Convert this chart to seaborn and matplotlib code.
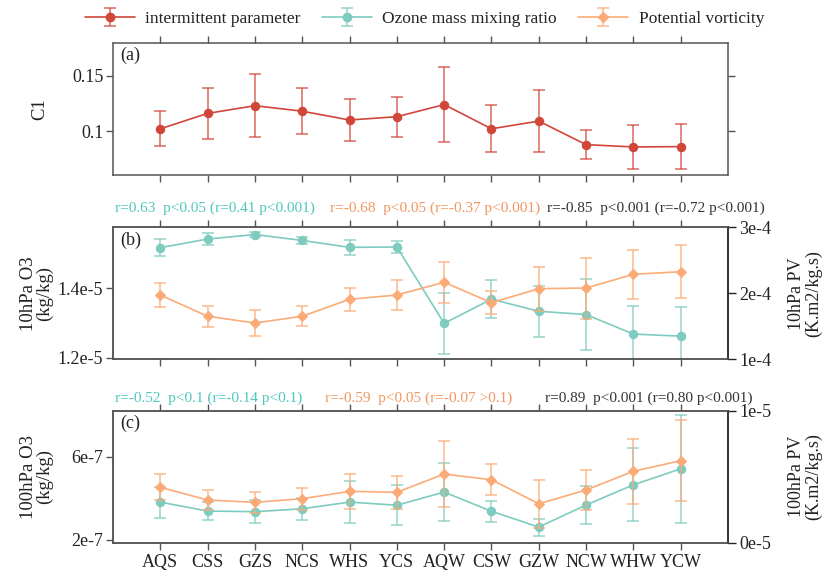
import numpy as np
import pandas as pd
import matplotlib
matplotlib.use("Agg")
import matplotlib.pyplot as plt
import seaborn as sns
from matplotlib.lines import Line2D
from matplotlib.legend_handler import HandlerTuple

categories = ['AQS', 'CSS', 'GZS', 'NCS', 'WHS', 'YCS', 'AQW', 'CSW', 'GZW', 'NCW', 'WHW', 'YCW']

c1_mean = [0.102, 0.116, 0.123, 0.118, 0.110, 0.113, 0.124, 0.102, 0.109, 0.0876, 0.0855, 0.0858]
c1_err = [0.016, 0.023, 0.0285, 0.021, 0.019, 0.018, 0.034, 0.0215, 0.028, 0.0135, 0.020, 0.0205]

o3_10 = [1.518e-5, 1.543e-5, 1.556e-5, 1.539e-5, 1.519e-5, 1.520e-5, 1.299e-5, 1.369e-5, 1.334e-5, 1.3245e-5, 1.268e-5, 1.262e-5]
o3_10_err = [0.024e-5, 0.017e-5, 0.008e-5, 0.011e-5, 0.021e-5, 0.017e-5, 0.088e-5, 0.0555e-5, 0.074e-5, 0.1035e-5, 0.080e-5, 0.084e-5]
pv_10 = [1.974e-4, 1.652e-4, 1.55e-4, 1.652e-4, 1.909e-4, 1.974e-4, 2.167e-4, 1.858e-4, 2.07e-4, 2.08e-4, 2.288e-4, 2.327e-4]
pv_10_err = [0.178e-4, 0.157e-4, 0.195e-4, 0.154e-4, 0.17e-4, 0.227e-4, 0.308e-4, 0.177e-4, 0.333e-4, 0.462e-4, 0.371e-4, 0.399e-4]

o3_100 = [3.82e-7, 3.39e-7, 3.36e-7, 3.5e-7, 3.82e-7, 3.67e-7, 4.3e-7, 3.38e-7, 2.62e-7, 3.68e-7, 4.65e-7, 5.42e-7]
o3_100_err = [0.745e-7, 0.44e-7, 0.54e-7, 0.54e-7, 1.0e-7, 0.97e-7, 1.39e-7, 0.5e-7, 0.41e-7, 0.9e-7, 1.75e-7, 2.58e-7]
pv_100 = [4.2e-6, 3.23e-6, 3.06e-6, 3.33e-6, 3.89e-6, 3.82e-6, 5.2e-6, 4.77e-6, 2.95e-6, 3.99e-6, 5.41e-6, 6.21e-6]
pv_100_err = [1.0e-6, 0.78e-6, 0.8e-6, 0.83e-6, 1.31e-6, 1.26e-6, 2.53e-6, 1.19e-6, 1.82e-6, 1.52e-6, 2.46e-6, 3.08e-6]

series_labels = ['intermittent parameter', 'Ozone mass mixing ratio', 'Potential vorticity']

a_yticks = [0.1, 0.15]
a_yticklabels = ['0.1', '0.15']
b_left_ticks = [1.2e-5, 1.4e-5]
b_left_labels = ['1.2e-5', '1.4e-5']
b_right_ticks = [1e-4, 2e-4, 3e-4]
b_right_labels = ['1e-4', '2e-4', '3e-4']
c_left_ticks = [2e-7, 6e-7]
c_left_labels = ['2e-7', '6e-7']
c_right_ticks = [0, 1e-5]
c_right_labels = ['0e-5', '1e-5']

b_stats = ['r=0.63  p<0.05 (r=0.41 p<0.001)', 'r=-0.68  p<0.05 (r=-0.37 p<0.001)', 'r=-0.85  p<0.001 (r=-0.72 p<0.001)']
c_stats = ['r=-0.52  p<0.1 (r=-0.14 p<0.1)', 'r=-0.59  p<0.05 (r=-0.07 >0.1)', 'r=0.89  p<0.001 (r=0.80 p<0.001)']

sns.set_theme(style='white')
plt.rcParams['font.family'] = ['Liberation Serif', 'DejaVu Serif']

RED = '#d0473a'
TEAL = '#7ecbbf'
ORANGE = '#fbab77'
TEAL_TXT = '#4ec8bc'
ORANGE_TXT = '#f39660'
DARK_TXT = '#333333'
SPINE = '#555555'

fig = plt.figure(figsize=(8.24, 5.76), dpi=100)
L, W, H = 113 / 824, 615 / 824, 132 / 576
ax_a = fig.add_axes([L, (576 - 175) / 576, W, H])
ax_b = fig.add_axes([L, (576 - 359.3) / 576, W, H])
ax_c = fig.add_axes([L, (576 - 542.7) / 576, W, H])

x = np.arange(len(categories))
df = pd.DataFrame({'pos': x, 'cat': categories,
                   'c1': c1_mean, 'c1e': c1_err,
                   'o3_10': o3_10, 'o3_10e': o3_10_err, 'pv_10': pv_10, 'pv_10e': pv_10_err,
                   'o3_100': o3_100, 'o3_100e': o3_100_err, 'pv_100': pv_100, 'pv_100e': pv_100_err})


def draw(ax, ycol, ecol, color, marker, ms):
    eb = ax.errorbar(df['pos'], df[ycol], yerr=df[ecol], fmt='none', ecolor=color,
                     elinewidth=1.2, capsize=4.5, capthick=1.2, alpha=0.75, zorder=2)
    sns.lineplot(data=df, x='pos', y=ycol, ax=ax, color=color, marker=marker,
                 markersize=ms, markeredgecolor=color, markeredgewidth=0.8,
                 linewidth=1.2, zorder=3, legend=False)
    return eb


eb_red = draw(ax_a, 'c1', 'c1e', RED, 'o', 6)
ax_a.set_ylim(0.06, 0.18)
ax_a.set_yticks(a_yticks)
ax_a.set_yticklabels(a_yticklabels)

eb_teal = draw(ax_b, 'o3_10', 'o3_10e', TEAL, 'o', 6)
ax_b.set_ylim(1.195e-5, 1.577e-5)
ax_b.set_yticks(b_left_ticks)
ax_b.set_yticklabels(b_left_labels)
ax_b2 = ax_b.twinx()
eb_orange = draw(ax_b2, 'pv_10', 'pv_10e', ORANGE, 'D', 5)
ax_b2.set_ylim(1e-4, 3e-4)
ax_b2.set_yticks(b_right_ticks)
ax_b2.set_yticklabels(b_right_labels)

draw(ax_c, 'o3_100', 'o3_100e', TEAL, 'o', 6)
ax_c.set_ylim(1.87e-7, 8.21e-7)
ax_c.set_yticks(c_left_ticks)
ax_c.set_yticklabels(c_left_labels)
ax_c2 = ax_c.twinx()
draw(ax_c2, 'pv_100', 'pv_100e', ORANGE, 'D', 5)
ax_c2.set_ylim(0, 1e-5)
ax_c2.set_yticks(c_right_ticks)
ax_c2.set_yticklabels(c_right_labels)

for ax in (ax_a, ax_b, ax_c, ax_b2, ax_c2):
    ax.set_xlim(-1, len(categories))
    ax.set_xticks(x)
    for s in ax.spines.values():
        s.set_color(SPINE)
        s.set_linewidth(1.1)
    ax.set_xlabel('')
    ax.set_ylabel('')

for ax in (ax_a, ax_b, ax_c):
    ax.tick_params(axis='x', which='both', bottom=True, top=True, direction='out',
                   length=5, width=1, color=SPINE, labelsize=13, labelbottom=False, labeltop=False)
    ax.tick_params(axis='y', left=True, direction='out', length=5, width=1, color=SPINE,
                   labelsize=13, labelcolor='#222222', pad=2)
ax_c.tick_params(axis='x', labelbottom=True, labelcolor='#222222', pad=3)
ax_c.set_xticklabels(categories)
ax_a.tick_params(axis='y', right=True, labelright=False)
for ax in (ax_b2, ax_c2):
    ax.tick_params(axis='y', right=True, direction='out', length=6, width=1, color='#222222',
                   labelsize=13, labelcolor='#222222', pad=2)
    ax.spines['right'].set_color('#222222')

for ax, t in ((ax_a, '(a)'), (ax_b, '(b)'), (ax_c, '(c)')):
    ax.text(0.012, 0.97, t, transform=ax.transAxes, ha='left', va='top', fontsize=13, color='#222222')

ax_a.set_ylabel('C1', fontsize=13.5, color='#222222')
ax_a.yaxis.set_label_coords(-0.106, 0.5)
ax_b.set_ylabel('10hPa O3\n(kg/kg)', fontsize=13.5, color='#222222', linespacing=0.95)
ax_b.yaxis.set_label_coords(-0.097, 0.5)
ax_c.set_ylabel('100hPa O3\n(kg/kg)', fontsize=13.5, color='#222222', linespacing=0.95)
ax_c.yaxis.set_label_coords(-0.097, 0.5)
ax_b2.set_ylabel('10hPa PV\n(K.m2/kg.s)', fontsize=13, color='#222222', linespacing=0.95)
ax_b2.yaxis.set_label_coords(1.098, 0.5)
ax_c2.set_ylabel('100hPa PV\n(K.m2/kg.s)', fontsize=13, color='#222222', linespacing=0.95)
ax_c2.yaxis.set_label_coords(1.098, 0.5)

stat_colors = [TEAL_TXT, ORANGE_TXT, DARK_TXT]
b_x = [115, 330, 547]
c_x = [115, 325, 545]
for s, xx, col in zip(b_stats, b_x, stat_colors):
    fig.text(xx / 824, 1 - 208 / 576, s, color=col, fontsize=11.0, ha='left', va='center')
for s, xx, col in zip(c_stats, c_x, stat_colors):
    fig.text(xx / 824, 1 - 398 / 576, s, color=col, fontsize=11.0, ha='left', va='center')

handles = []
for col, mk, ms, eb in ((RED, 'o', 6, eb_red), (TEAL, 'o', 6, eb_teal), (ORANGE, 'D', 5, eb_orange)):
    ln = Line2D([0], [0], color=col, marker=mk, markersize=ms, linewidth=1.2,
                markeredgecolor=col)
    handles.append((eb, ln))
leg = fig.legend(handles, series_labels, loc='center', bbox_to_anchor=(0.515, 1 - 19 / 576),
                 ncol=3, frameon=False, fontsize=12.5, handlelength=2.9, columnspacing=1.2,
                 handletextpad=0.6, handler_map={tuple: HandlerTuple(ndivide=1)})
for t in leg.get_texts():
    t.set_color('#222222')

fig.savefig('out.png', dpi=100)
